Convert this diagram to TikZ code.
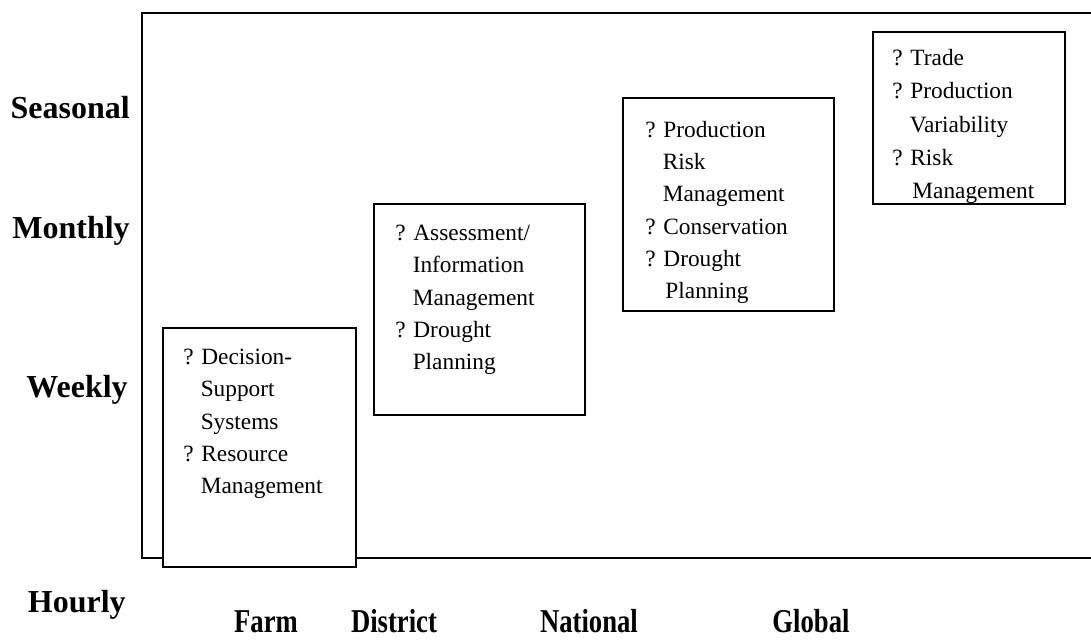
\documentclass[tikz,border=0pt]{standalone}
\usepackage{fontspec}
\setmainfont{Liberation Serif}
\newfontfamily\narrowserif[FakeStretch=0.8]{Liberation Serif}
\tikzstyle{timescale}=[font=\fontsize{24}{28}\selectfont\bfseries, anchor=base east, inner sep=0pt]
\tikzstyle{spacescale}=[font=\narrowserif\fontsize{25}{28}\selectfont\bfseries, anchor=base, inner sep=0pt]
\tikzstyle{sector}=[draw, line width=1.3pt, anchor=north west, inner sep=0pt]
\tikzstyle{items}=[font=\fontsize{17.5}{24.2}\selectfont, align=left, anchor=north west, inner sep=0pt]
\newcommand{\ind}{\hspace*{0.75em}}

\begin{document}
\begin{tikzpicture}[x=0.75pt,y=-0.75pt] % one unit = one pixel of the 1091x639 page
\useasboundingbox (0,0) rectangle (1091,639);

% open frame (no right side)
\coordinate (topend) at (1091,13);
\coordinate (corner) at (142,13);
\coordinate (origin) at (142,558);
\coordinate (bottomend) at (1091,558);
\draw[line width=1.5pt] (topend) -- (corner) -- (origin) -- (bottomend);

% time scale
\node[timescale] (seasonal) at (130,118) {Seasonal};
\node[timescale] (monthly) at (130,238) {Monthly};
\node[timescale] (weekly) at (128,397) {Weekly};
\node[timescale] (hourly) at (126,612) {Hourly};

% space scale
\node[spacescale] (farmlab) at (266,632) {Farm};
\node[spacescale] (districtlab) at (394,632) {District};
\node[spacescale] (nationallab) at (589,632) {National};
\node[spacescale] (globallab) at (811,632) {Global};

% boxes, sizes in pt = pixels*0.75
\node[sector, fill=white, minimum width=144.75pt, minimum height=179.25pt] (farm) at (162,327) {};
\node[sector, minimum width=158.25pt, minimum height=158.25pt] (district) at (373,203) {};
\node[sector, minimum width=158.25pt, minimum height=159.75pt] (national) at (622,97) {};
\node[sector, minimum width=144pt, minimum height=129pt] (global) at (872,31) {};

\node[items] (farmtext) at (183,349) {? Decision-\\\ind Support\\\ind Systems\\? Resource\\\ind Management};
\node[items] (districttext) at (395,225) {? Assessment/\\\ind Information\\\ind Management\\? Drought\\\ind Planning};
\node[items] (nationaltext) at (645,121) {? Production\\\ind Risk\\\ind Management\\? Conservation\\? Drought\\\ind\hspace*{2pt}Planning};
\begin{scope}
\clip (global.north west) rectangle (global.south east);
\node[items, font=\fontsize{17.5}{25}\selectfont] (globaltext) at (892,49) {? Trade\\? Production\\\ind Variability\\? Risk\\\ind\hspace*{2pt}Management};
\end{scope}
\end{tikzpicture}
\end{document}
